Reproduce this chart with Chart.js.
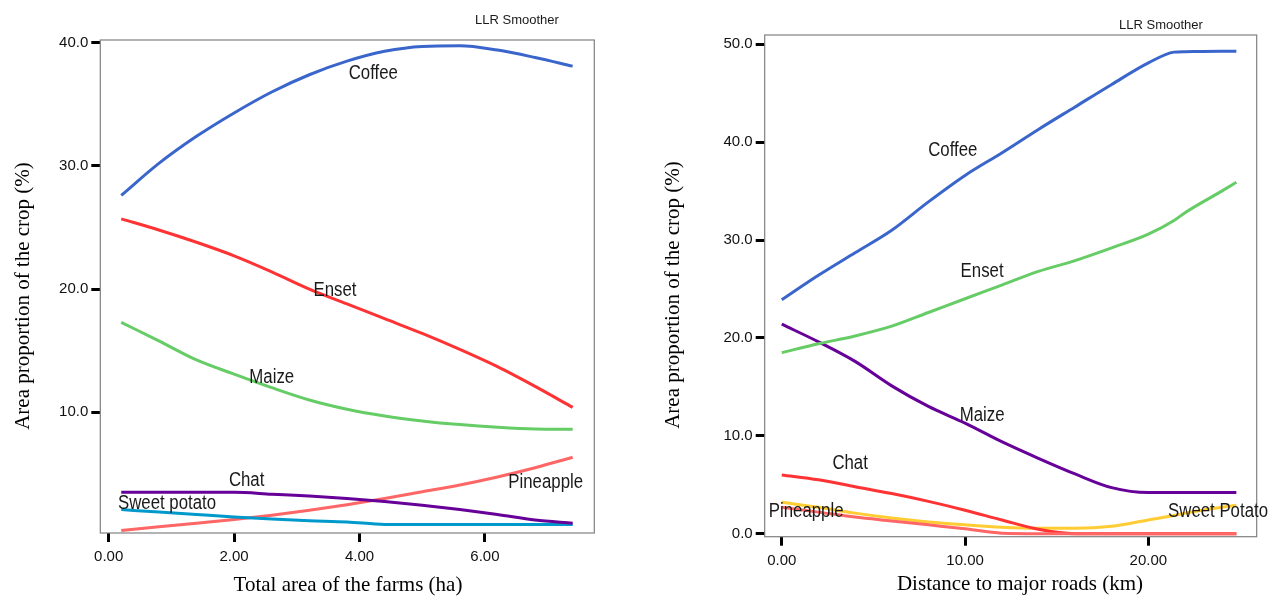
<!DOCTYPE html>
<html>
<head>
<meta charset="utf-8">
<script src="https://cdn.jsdelivr.net/npm/chart.js@4.4.1/dist/chart.umd.min.js"></script>
<style>
  body { margin: 0; background: #fff; }
  #wrap { position: relative; width: 1272px; height: 597px; }
  canvas { position: absolute; top: 0; }
</style>
</head>
<body>
<div id="wrap">
  <canvas id="farmChart" width="636" height="597" style="left:0"></canvas>
  <canvas id="roadChart" width="636" height="597" style="left:636px"></canvas>
</div>
<script>
// left panel: total farm area (ha)
const farmArea = [0.2, 0.8, 1.4, 2.0, 2.6, 3.2, 3.8, 4.4, 5.0, 5.6, 6.2, 6.8, 7.4];
const farmCoffee = [27.6, 30.2, 32.4, 34.3, 36.0, 37.4, 38.5, 39.3, 39.7, 39.75, 39.4, 38.8, 38.1];
const farmEnset = [25.7, 24.8, 23.8, 22.7, 21.4, 20.0, 18.8, 17.6, 16.4, 15.1, 13.7, 12.1, 10.4];
const farmMaize = [17.3, 15.8, 14.25, 13.1, 12.0, 11.0, 10.25, 9.7, 9.3, 9.0, 8.78, 8.64, 8.62];
const farmChat = [3.5, 3.5, 3.5, 3.5, 3.35, 3.2, 3.0, 2.75, 2.45, 2.1, 1.7, 1.25, 0.99];
const farmSweetPotato = [2.1, 1.9, 1.7, 1.5, 1.33, 1.2, 1.1, 0.9, 0.88, 0.88, 0.88, 0.88, 0.88];
const farmPineapple = [0.4, 0.7, 1.0, 1.3, 1.65, 2.05, 2.5, 3.0, 3.55, 4.1, 4.75, 5.5, 6.35];
const farmXTicks = [0, 2, 4, 6];
const farmYTicks = [10, 20, 30, 40];

// right panel: distance to major roads (km)
const roadDistance = [0, 2, 4, 6, 8, 10, 12, 14, 16, 18, 20, 21.4, 22, 24, 24.8];
const roadCoffee = [23.9, 26.4, 28.7, 31.0, 33.9, 36.6, 38.9, 41.3, 43.6, 45.9, 48.1, 49.2, 49.25, 49.3, 49.3];
const roadEnset = [18.5, 19.4, 20.2, 21.2, 22.6, 24.0, 25.4, 26.8, 27.9, 29.2, 30.6, 32.0, 32.8, 35.0, 35.9];
const roadMaize = [21.4, 19.6, 17.6, 15.1, 13.0, 11.3, 9.4, 7.7, 6.1, 4.7, 4.2, 4.2, 4.2, 4.2, 4.2];
const roadPineapple = [2.7, 2.2, 1.7, 1.3, 0.9, 0.5, 0.05, 0, 0, 0, 0, 0, 0, 0, 0];
const roadChat = [6.0, 5.5, 4.8, 4.1, 3.3, 2.4, 1.4, 0.45, 0, 0, 0, 0, 0, 0, 0];
const roadSweetPotato = [3.2, 2.7, 2.1, 1.6, 1.2, 0.9, 0.65, 0.55, 0.55, 0.75, 1.4, 1.85, 2.1, 2.7, 2.9];
const roadXTicks = [0, 10, 20];
const roadYTicks = [0, 10, 20, 30, 40, 50];

// curve labels, in data units
const farmLabels = [
  { text: "Coffee", x: 4.22, y: 37.5 },
  { text: "Enset", x: 3.61, y: 19.9 },
  { text: "Maize", x: 2.6, y: 12.8 },
  { text: "Chat", x: 2.2, y: 4.5 },
  { text: "Sweet potato", x: 0.93, y: 2.56 },
  { text: "Pineapple", x: 6.97, y: 4.34 }
];
const roadLabels = [
  { text: "Coffee", x: 9.33, y: 39.1 },
  { text: "Enset", x: 10.93, y: 26.8 },
  { text: "Maize", x: 10.93, y: 12.1 },
  { text: "Chat", x: 3.73, y: 7.2 },
  { text: "Pineapple", x: 1.33, y: 2.3 },
  { text: "Sweet Potato", x: 23.8, y: 2.3 }
];

const COLORS = {
  blue: "#3a66cc", red: "#ff3333", green: "#66cc66", salmon: "#ff6666",
  purple: "#660099", teal: "#0099cc", yellow: "#ffcc33"
};

function toPoints(xs, ys) {
  return xs.map((x, i) => ({ x: x, y: ys[i] }));
}

function annotatePlugin(cfg) {
  return {
    id: "annotate",
    beforeDatasetsDraw(chart) {
      const a = chart.chartArea;
      const c = chart.ctx;
      c.save();
      c.strokeStyle = "#808080";
      c.lineWidth = 1.2;
      c.strokeRect(a.left, a.top, a.right - a.left, a.bottom - a.top);
      c.restore();
    },
    afterDraw(chart) {
      const c = chart.ctx;
      const xs = chart.scales.x, ys = chart.scales.y;
      c.save();
      c.fillStyle = "#1a1a1a";
      c.textAlign = "center";
      c.textBaseline = "middle";
      c.font = '20px "Liberation Sans", Arial, sans-serif';
      cfg.labels.forEach(l => {
        const w = c.measureText(l.text).width;
        c.fillText(l.text, xs.getPixelForValue(l.x), ys.getPixelForValue(l.y), w * 0.84);
      });
      c.font = '13px "Liberation Sans", Arial, sans-serif';
      c.fillText("LLR Smoother", cfg.smoother[0], cfg.smoother[1]);
      c.fillStyle = "#000";
      c.font = '21px "Liberation Serif", "Times New Roman", serif';
      c.fillText(cfg.xTitle, cfg.xTitlePos[0], cfg.xTitlePos[1]);
      c.translate(cfg.yTitlePos[0], cfg.yTitlePos[1]);
      c.rotate(-Math.PI / 2);
      c.fillText(cfg.yTitle, 0, 0);
      c.restore();
    }
  };
}

function makeChart(canvasId, cfg) {
  const canvas = document.getElementById(canvasId);
  if (!canvas) return null;
  const ctx = canvas.getContext("2d");
  const tickFont = { family: '"Liberation Sans", Arial, sans-serif', size: 15 };
  return new Chart(ctx, {
    type: "line",
    data: {
      datasets: cfg.series.map(s => ({
        label: s.name,
        data: toPoints(cfg.x, s.values),
        borderColor: s.color,
        borderWidth: 3,
        pointRadius: 0,
        cubicInterpolationMode: "monotone",
        fill: false
      }))
    },
    options: {
      responsive: false,
      animation: false,
      layout: { padding: cfg.padding },
      plugins: {
        legend: { display: false },
        tooltip: { enabled: false }
      },
      scales: {
        x: {
          type: "linear",
          min: cfg.xRange[0],
          max: cfg.xRange[1],
          afterBuildTicks: (s) => { s.ticks = cfg.xTicks.map(v => ({ value: v })); },
          afterFit: (s) => { s.height = cfg.xAxisHeight; },
          border: { display: false },
          grid: { drawOnChartArea: false, tickLength: 9, tickWidth: 3, tickColor: "#000" },
          ticks: { autoSkip: false, maxRotation: 0, padding: 6, color: "#111", font: tickFont,
                   callback: (v) => Number(v).toFixed(2) }
        },
        y: {
          min: cfg.yRange[0],
          max: cfg.yRange[1],
          afterBuildTicks: (s) => { s.ticks = cfg.yTicks.map(v => ({ value: v })); },
          afterFit: (s) => { s.width = cfg.yAxisWidth; },
          border: { display: false },
          grid: { drawOnChartArea: false, tickLength: 9, tickWidth: 3, tickColor: "#000" },
          ticks: { autoSkip: false, padding: 3, color: "#111", font: tickFont,
                   callback: (v) => Number(v).toFixed(1) }
        }
      }
    },
    plugins: [annotatePlugin(cfg)]
  });
}

makeChart("farmChart", {
  x: farmArea,
  series: [
    { name: "Coffee", values: farmCoffee, color: COLORS.blue },
    { name: "Enset", values: farmEnset, color: COLORS.red },
    { name: "Maize", values: farmMaize, color: COLORS.green },
    { name: "Chat", values: farmChat, color: COLORS.purple },
    { name: "Sweet potato", values: farmSweetPotato, color: COLORS.teal },
    { name: "Pineapple", values: farmPineapple, color: COLORS.salmon }
  ],
  xRange: [-0.134, 7.745],
  yRange: [0.2, 40.22],
  xTicks: farmXTicks,
  yTicks: farmYTicks,
  padding: { top: 40, right: 41.7, left: 0, bottom: 0 },
  yAxisWidth: 100.3,
  xAxisHeight: 64,
  labels: farmLabels,
  smoother: [517, 20],
  xTitle: "Total area of the farms (ha)",
  xTitlePos: [348, 585],
  yTitle: "Area proportion of the crop (%)",
  yTitlePos: [23, 296]
});

makeChart("roadChart", {
  x: roadDistance,
  series: [
    { name: "Coffee", values: roadCoffee, color: COLORS.blue },
    { name: "Enset", values: roadEnset, color: COLORS.green },
    { name: "Maize", values: roadMaize, color: COLORS.purple },
    { name: "Pineapple", values: roadPineapple, color: COLORS.salmon },
    { name: "Chat", values: roadChat, color: COLORS.red },
    { name: "Sweet Potato", values: roadSweetPotato, color: COLORS.yellow }
  ],
  xRange: [-0.93, 25.91],
  yRange: [-0.31, 50.95],
  xTicks: roadXTicks,
  yTicks: roadYTicks,
  padding: { top: 35, right: 15.3, left: 0, bottom: 0 },
  yAxisWidth: 128.7,
  xAxisHeight: 60.3,
  labels: roadLabels,
  smoother: [525, 25],
  xTitle: "Distance to major roads (km)",
  xTitlePos: [384, 584],
  yTitle: "Area proportion of the crop (%)",
  yTitlePos: [37, 295]
});
</script>
</body>
</html>
